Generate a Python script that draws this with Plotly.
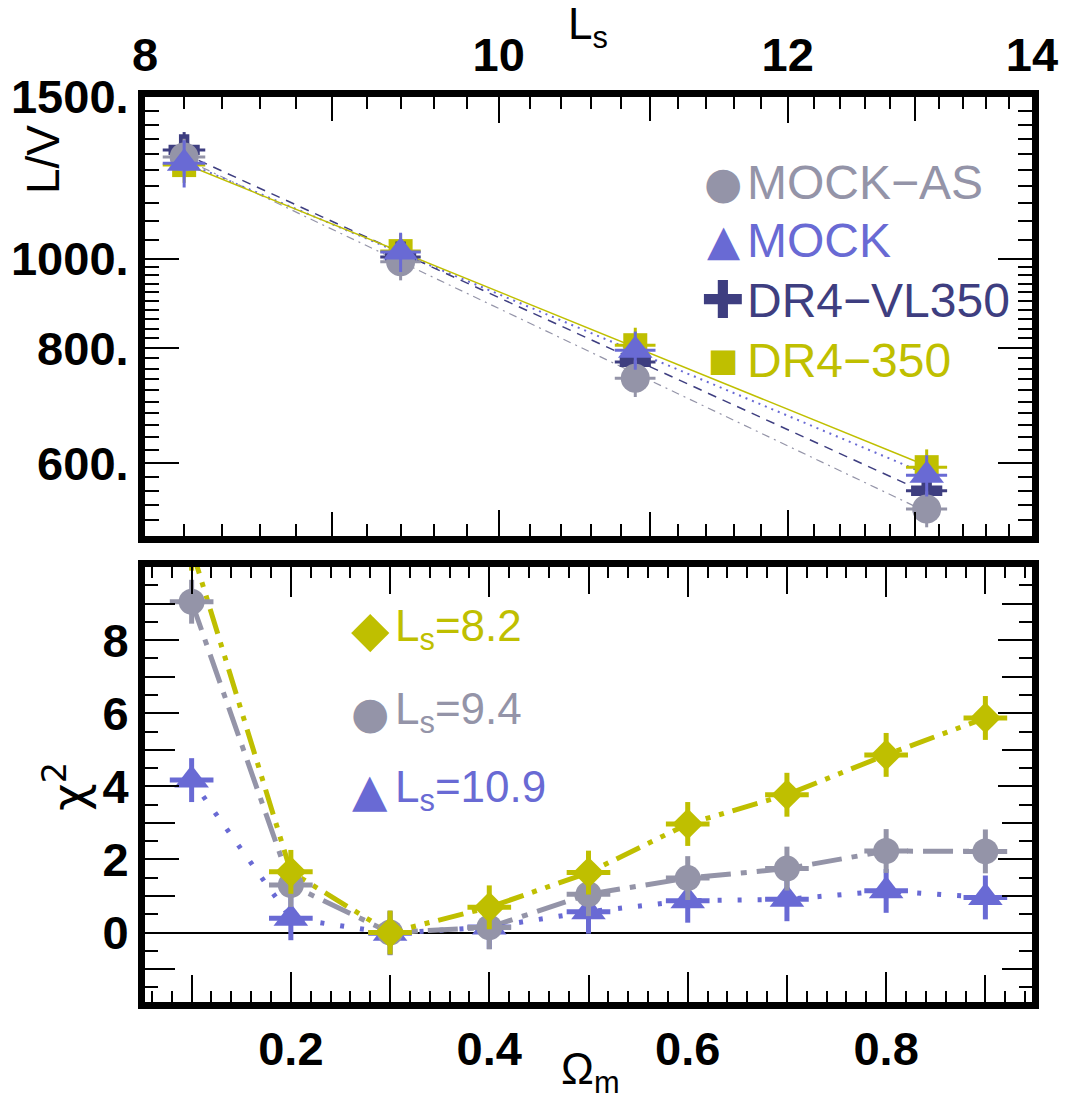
import numpy as np
import plotly.graph_objects as go

# ---------------- data: top panel (L/V vs Ls) ----------------
ls_values = [8.2, 9.4, 10.9, 13.1]
ls_err = [0.11, 0.12, 0.14, 0.17]
lv_mock_as = [1291, 993, 742, 535]
lv_mock_as_err = [60, 45, 34, 24]
lv_mock = [1271, 1018, 796, 582]
lv_mock_err = [75, 50, 38, 30]
lv_dr4_vl350 = [1314, 1005, 773, 560]
lv_dr4_vl350_err = [60, 45, 35, 25]
lv_dr4_350 = [1265, 1020, 806, 594]
lv_dr4_350_err = [55, 45, 36, 27]

# ---------------- data: bottom panel (chi2 vs Omega_m) ----------------
omega_m = [0.1, 0.2, 0.3, 0.4, 0.5, 0.6, 0.7, 0.8, 0.9]
omega_err = [0.022] * 9
chi2_ls82 = [10.5, 1.66, 0.0, 0.69, 1.64, 2.97, 3.77, 4.86, 5.87]
chi2_ls94 = [9.05, 1.30, 0.0, 0.14, 1.05, 1.49, 1.75, 2.23, 2.22]
chi2_ls109 = [4.17, 0.39, -0.02, 0.15, 0.57, 0.87, 0.91, 1.14, 0.96]
chi2_err = [0.6] * 9

# tick labels (labelled major ticks) and unlabelled major ticks
top_x_ticks = [8, 10, 12, 14]
top_x_labels = ["8", "10", "12", "14"]
top_x_unlabelled = [9, 11, 13]
top_y_ticks = [600, 800, 1000, 1500]
top_y_labels = ["600.", "800.", "1000.", "1500."]
bot_x_ticks = [0.2, 0.4, 0.6, 0.8]
bot_x_labels = ["0.2", "0.4", "0.6", "0.8"]
bot_x_unlabelled = [0.1, 0.3, 0.5, 0.7, 0.9]
bot_y_ticks = [0, 2, 4, 6, 8]
bot_y_labels = ["0", "2", "4", "6", "8"]
bot_y_unlabelled = [-1, 1, 3, 5, 7, 9]

# colours
GRAY = "rgb(148,148,168)"
BLUE = "rgb(105,106,212)"
NAVY = "rgb(62,62,128)"
YELLOW = "rgb(191,191,0)"

W, H = 1070, 1103
def px(x):
    return x / W
def py(y):
    return 1 - y / H

fig = go.Figure()

# ---- top panel fit lines ----
def power_fit(x, y):
    lx, ly = np.log(x), np.log(y)
    p = np.polyfit(lx, ly, 1)
    xs = np.array([x[0], x[-1]])
    return xs, np.exp(np.polyval(p, np.log(xs)))

top_series = [
    ("MOCK-AS", lv_mock_as, lv_mock_as_err, GRAY, "circle", 29, dict(dash="8px,5px,2px,5px", width=1.2)),
    ("MOCK", lv_mock, lv_mock_err, BLUE, "triangle-up", 30, dict(dash="2px,5px", width=2)),
    ("DR4-VL350", lv_dr4_vl350, lv_dr4_vl350_err, NAVY, "cross", 26, dict(dash="9px,7px", width=1.5)),
    ("DR4-350", lv_dr4_350, lv_dr4_350_err, YELLOW, "square", 24, dict(dash="solid", width=1.5)),
]

for name, vals, errs, col, sym, size, ls in top_series:
    xs, ys = power_fit(ls_values, vals)
    fig.add_trace(go.Scatter(x=xs, y=ys, mode="lines", xaxis="x2", yaxis="y2",
                             line=dict(color=col, **ls), showlegend=False, hoverinfo="skip"))

draw_order = [3, 2, 0, 1]  # yellow, navy, gray, blue
for i in draw_order:
    name, vals, errs, col, sym, size, ls = top_series[i]
    fig.add_trace(go.Scatter(
        x=ls_values, y=vals, mode="markers", xaxis="x2", yaxis="y2", name=name,
        marker=dict(symbol=sym, size=size, color=col, line=dict(width=0)),
        error_x=dict(type="data", array=ls_err, color=col, thickness=3, width=0),
        error_y=dict(type="data", array=errs, color=col, thickness=3, width=0),
        showlegend=False))

# ---- bottom panel ----
bot_series = [
    ("Ls=10.9", chi2_ls109, BLUE, "triangle-up", 30, "4px,16px"),
    ("Ls=9.4", chi2_ls94, GRAY, "circle", 26, "30px,10px,6px,10px"),
    ("Ls=8.2", chi2_ls82, YELLOW, "diamond", 24, "26px,9px,5px,9px,5px,9px"),
]
for name, vals, col, sym, size, dash in bot_series:
    fig.add_trace(go.Scatter(
        x=omega_m, y=vals, mode="lines", line=dict(color=col, width=5, dash=dash),
        showlegend=False, hoverinfo="skip"))
for name, vals, col, sym, size, dash in bot_series:
    fig.add_trace(go.Scatter(
        x=omega_m, y=vals, mode="markers", name=name,
        marker=dict(symbol=sym, size=size, color=col, line=dict(width=0)),
        error_x=dict(type="data", array=omega_err, color=col, thickness=5, width=0),
        error_y=dict(type="data", array=chi2_err, color=col, thickness=5, width=0),
        showlegend=False))

# empty traces so the overlay axes (unlabelled major ticks) are drawn
fig.add_trace(go.Scatter(x=[], y=[], xaxis="x3", yaxis="y", showlegend=False, hoverinfo="skip"))
fig.add_trace(go.Scatter(x=[], y=[], xaxis="x", yaxis="y3", showlegend=False, hoverinfo="skip"))
fig.add_trace(go.Scatter(x=[], y=[], xaxis="x4", yaxis="y2", showlegend=False, hoverinfo="skip"))

tickfont = dict(family="Liberation Sans", size=47, color="black", weight="bold")
common = dict(showline=True, linewidth=7, linecolor="black", mirror="ticks",
              ticks="inside", tickcolor="black", tickwidth=1.5, showgrid=False,
              tickfont=tickfont, tickmode="array", automargin=False)
overlay_common = dict(showline=False, mirror="ticks", ticks="inside", tickcolor="black",
                      tickwidth=1.5, showgrid=False, showticklabels=False, tickmode="array",
                      automargin=False, zeroline=False)

xdom = [px(145), px(1032)]
bot_xrange = [0.053, 0.947]
bot_yrange = [-1.9, 10]
top_xrange = [np.log10(8), np.log10(14)]

top_x_minor = [round(v, 1) for v in np.arange(8.2, 14.0, 0.2) if abs(v - round(v)) > 1e-6]
top_y_minor = [v for v in range(520, 1000, 20) if v not in (600, 800)] + list(range(1050, 1500, 50))
bot_x_minor = [round(v, 2) for v in np.arange(0.06, 0.95, 0.02) if abs(v * 10 - round(v * 10)) > 1e-6]
bot_y_minor = [v + 0.5 for v in range(-2, 10)]

fig.update_layout(
    width=W, height=H, margin=dict(l=0, r=0, t=0, b=0, autoexpand=False),
    paper_bgcolor="white", plot_bgcolor="white", showlegend=False,
    xaxis=dict(domain=xdom, range=bot_xrange, anchor="y",
               tickvals=bot_x_ticks, ticktext=bot_x_labels, ticklen=30,
               minor=dict(tickvals=bot_x_minor, ticklen=11, tickwidth=1.5, tickcolor="black", ticks="inside"),
               zeroline=False, **common),
    yaxis=dict(domain=[py(1002), py(567)], range=bot_yrange, anchor="x",
               tickvals=bot_y_ticks, ticktext=bot_y_labels, ticklen=34,
               minor=dict(tickvals=bot_y_minor, ticklen=13, tickwidth=1.5, tickcolor="black", ticks="inside"),
               zeroline=True, zerolinecolor="black", zerolinewidth=1.5, **common),
    xaxis2=dict(domain=xdom, type="log", range=top_xrange, anchor="y2", side="top",
                tickvals=top_x_ticks, ticktext=top_x_labels, ticklen=26,
                minor=dict(tickvals=top_x_minor, ticklen=12, tickwidth=1.5, tickcolor="black", ticks="inside"),
                **common),
    yaxis2=dict(domain=[py(536), py(97)], type="log", range=[np.log10(500), np.log10(1500)], anchor="x2",
                tickvals=top_y_ticks, ticktext=top_y_labels, ticklen=34,
                minor=dict(tickvals=top_y_minor, ticklen=14, tickwidth=1.5, tickcolor="black", ticks="inside"),
                **common),
    xaxis3=dict(overlaying="x", anchor="y", range=bot_xrange, side="bottom",
                tickvals=bot_x_unlabelled, ticklen=27, **overlay_common),
    yaxis3=dict(overlaying="y", anchor="x", range=bot_yrange, side="left",
                tickvals=bot_y_unlabelled, ticklen=30, **overlay_common),
    xaxis4=dict(overlaying="x2", anchor="y2", type="log", range=top_xrange, side="top",
                tickvals=top_x_unlabelled, ticklen=24, **overlay_common),
)

ann = []
title_font = dict(family="Liberation Sans", size=44, color="black")
ann.append(dict(text="L/V", x=px(43), y=py(160), textangle=-90, font=dict(family="Liberation Sans", size=46, color="black")))
ann.append(dict(text="χ<sup>2</sup>", x=px(66), y=py(787), textangle=-90, font=dict(family="DejaVu Sans", size=48, color="black")))
ann.append(dict(text="Ω<sub>m</sub>", x=px(590), y=py(1102), yanchor="bottom", font=title_font))
ann.append(dict(text="L<sub>s</sub>", x=px(588), y=py(27), font=title_font))

# legend (top)
top_leg = [("●", 44, "MOCK−AS", GRAY, 182), ("▲", 43, "MOCK", BLUE, 240),
           ("✚", 52, "DR4−VL350", NAVY, 300), ("■", 32, "DR4−350", YELLOW, 360)]
for sym, ssz, txt, col, y in top_leg:
    ann.append(dict(text=sym, x=px(723), y=py(y), xanchor="center",
                    font=dict(family="DejaVu Sans", size=ssz, color=col)))
    ann.append(dict(text=txt, x=px(745), y=py(y), xanchor="left",
                    font=dict(family="Liberation Sans", size=48, color=col)))

bot_leg = [("◆", 50, "L<sub>s</sub>=8.2", YELLOW, 629), ("●", 44, "L<sub>s</sub>=9.4", GRAY, 712),
           ("▲", 46, "L<sub>s</sub>=10.9", BLUE, 790)]
for sym, ssz, txt, col, y in bot_leg:
    ann.append(dict(text=sym, x=px(370), y=py(y), xanchor="center",
                    font=dict(family="DejaVu Sans", size=ssz, color=col)))
    ann.append(dict(text=txt, x=px(393), y=py(y), xanchor="left",
                    font=dict(family="Liberation Sans", size=44, color=col)))

for a in ann:
    a.setdefault("xanchor", "center")
    a.setdefault("yanchor", "middle")
    a.update(xref="paper", yref="paper", showarrow=False)
fig.update_layout(annotations=ann)

fig.write_html("out.html", config={"displayModeBar": False},
               post_script="document.body.style.margin='0';document.body.style.padding='0';")
